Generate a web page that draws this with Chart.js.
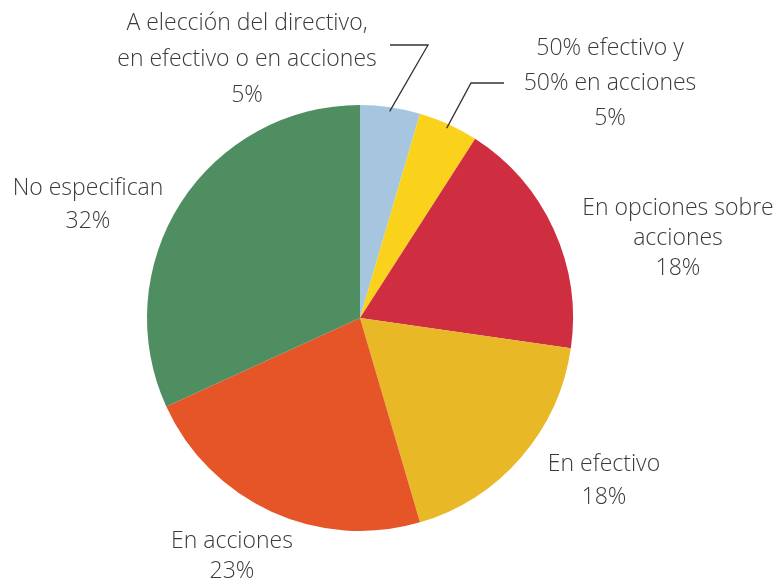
<!DOCTYPE html>
<html>
<head>
<meta charset="utf-8">
<script src="https://cdn.jsdelivr.net/npm/chart.js@4"></script>
<style>
  html, body { margin: 0; padding: 0; background: #fff; }
  #wrap { width: 776px; height: 581px; position: relative; }
</style>
</head>
<body>
<div id="wrap"><canvas id="pie"></canvas></div>
<script>
// categorías y recuento (22 planes en total)
const categories = [
  ['A elección del directivo,', 'en efectivo o en acciones'],
  ['50% efectivo y', '50% en acciones'],
  ['En opciones sobre', 'acciones'],
  ['En efectivo'],
  ['En acciones'],
  ['No especifican']
];
const counts = [1, 1, 4, 4, 5, 7];
const colors = ['#A6C6DF', '#FBD21B', '#CF2D40', '#E8B826', '#E65528', '#4F8E61'];

const total = counts.reduce((a, b) => a + b, 0);
const pctLabels = counts.map(v => Math.round(v / total * 100) + '%');

// posición del texto respecto al centro del pastel (dx, dy de la primera línea, interlineado)
const labelPos = [
  [-113, -295, 36], [250, -270, 35], [318, -110, 30],
  [244, 146, 33], [-128, 223, 30], [-272, -130, 33]
];
// codos de las líneas guía (solo sectores pequeños)
const leaders = {
  0: [[68, -273], [30, -273]],
  1: [[111, -235], [144, -235]]
};

const FONT = '300 23px "Open Sans", "Noto Sans", sans-serif';

const labelPlugin = {
  id: 'pieLabels',
  afterDatasetsDraw(chart) {
    const { ctx } = chart;
    const arcs = chart.getDatasetMeta(0).data;
    ctx.save();
    arcs.forEach((arc, i) => {
      const { x, y, outerRadius, startAngle, endAngle } = arc.getProps(['x', 'y', 'outerRadius', 'startAngle', 'endAngle'], true);
      if (leaders[i]) {
        const mid = (startAngle + endAngle) / 2;
        const r = outerRadius * 0.98;
        ctx.beginPath();
        ctx.strokeStyle = '#333';
        ctx.lineWidth = 1.3;
        ctx.moveTo(x + Math.cos(mid) * r, y + Math.sin(mid) * r);
        leaders[i].forEach(p => ctx.lineTo(x + p[0], y + p[1]));
        ctx.stroke();
      }
      const lines = categories[i].concat([pctLabels[i]]);
      const [dx, dy, lh] = labelPos[i];
      ctx.font = FONT;
      ctx.fillStyle = '#3a3a3a';
      ctx.textAlign = 'center';
      ctx.textBaseline = 'middle';
      lines.forEach((t, k) => ctx.fillText(t, x + dx, y + dy + k * lh));
    });
    ctx.restore();
  }
};

new Chart(document.getElementById('pie'), {
  type: 'pie',
  data: {
    labels: categories.map(c => c.join(' ')),
    datasets: [{
      data: counts,
      backgroundColor: colors,
      borderWidth: 0
    }]
  },
  options: {
    responsive: true,
    maintainAspectRatio: false,
    animation: false,
    layout: { padding: { top: 105, bottom: 50, left: 147, right: 203 } },
    plugins: {
      legend: { display: false },
      tooltip: { enabled: false }
    }
  },
  plugins: [labelPlugin]
});
</script>
</body>
</html>
